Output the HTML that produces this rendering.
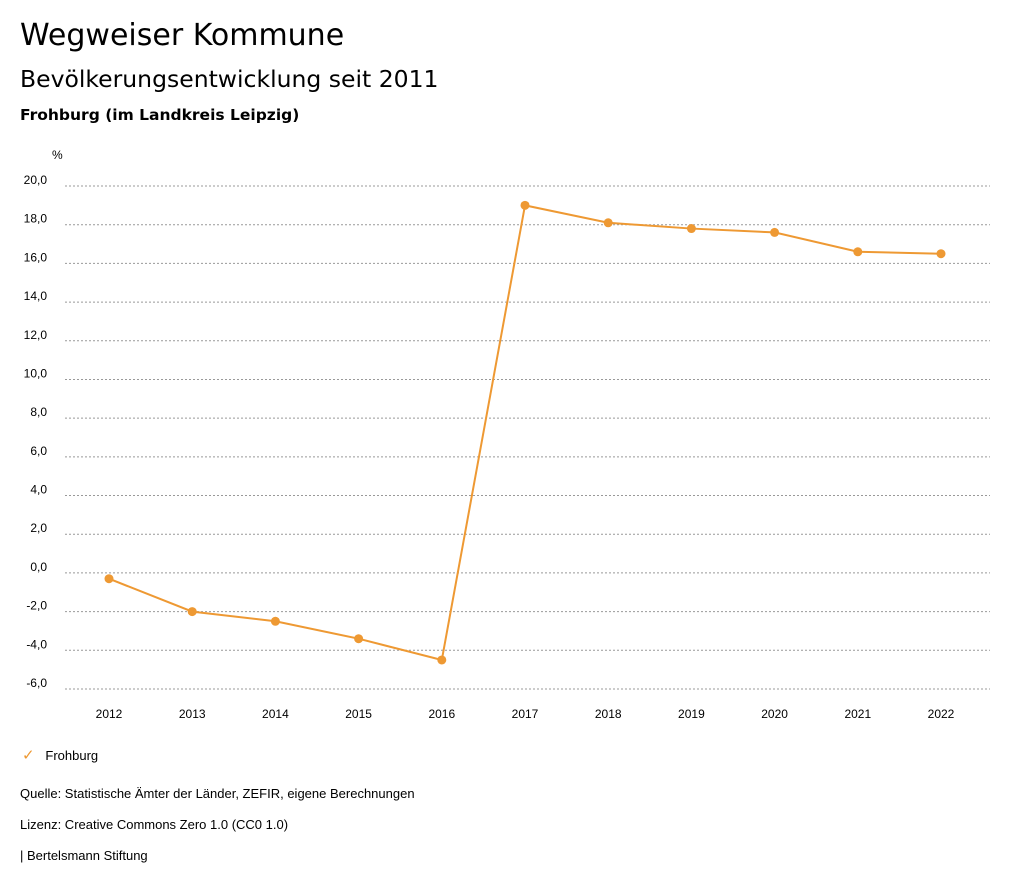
<!DOCTYPE html>
<html><head><meta charset="utf-8">
<style>
body{margin:0;background:#fff;font-family:"Liberation Sans",sans-serif;width:1024px;height:888px;overflow:hidden;position:relative}
.t{position:absolute;left:20px;color:#000;white-space:nowrap}
.h{font-family:"DejaVu Sans",sans-serif}
</style></head>
<body>
<div class="t h" style="top:18px;font-size:30px">Wegweiser Kommune</div>
<div class="t h" style="top:65px;font-size:23.5px">Bevölkerungsentwicklung seit 2011</div>
<div class="t h" style="top:106px;font-size:15.5px;font-weight:bold">Frohburg (im Landkreis Leipzig)</div>
<svg id="chart" width="1024" height="888" style="position:absolute;left:0;top:0" font-family="Liberation Sans, sans-serif"></svg>
<div class="t" style="top:746px;font-size:13px;left:22px"><span style="color:#ee9933;font-size:15px">✓</span>&nbsp;&nbsp;&nbsp;Frohburg</div>
<div class="t" style="top:786px;font-size:13px">Quelle: Statistische Ämter der Länder, ZEFIR, eigene Berechnungen</div>
<div class="t" style="top:817px;font-size:13px">Lizenz: Creative Commons Zero 1.0 (CC0 1.0)</div>
<div class="t" style="top:848px;font-size:13px">| Bertelsmann Stiftung</div>
<script>
const years=[2012,2013,2014,2015,2016,2017,2018,2019,2020,2021,2022];
const values=[-0.3,-2.0,-2.5,-3.4,-4.5,19.0,18.1,17.8,17.6,16.6,16.5];
const yTicks=[20,18,16,14,12,10,8,6,4,2,0,-2,-4,-6];
const NS="http://www.w3.org/2000/svg";
const svg=document.getElementById('chart');
const x=i=>109+i*83.2;
const y=v=>186+(20-v)*(689-186)/26;
function mk(t,a){const e=document.createElementNS(NS,t);for(const k in a)e.setAttribute(k,a[k]);svg.appendChild(e);return e;}
const u=mk('text',{x:52,y:159,'font-size':12,fill:'#000'});u.textContent='%';


yTicks.forEach(v=>{
 const l=mk('line',{x1:65,x2:990,y1:y(v),y2:y(v),stroke:'#999','stroke-dasharray':'2,2','stroke-width':1});
 
 
 const t=mk('text',{x:47,y:y(v)-2,'font-size':12,'text-anchor':'end',fill:'#000'});
 t.textContent=v.toFixed(1).replace('.',',');
 
 
});
years.forEach((yr,i)=>{
 const t=mk('text',{x:x(i),y:718,'font-size':12,'text-anchor':'middle',fill:'#000'});
 t.textContent=yr;
 
 
});
const p=mk('polyline',{points:values.map((v,i)=>x(i)+','+y(v)).join(' '),fill:'none',stroke:'#ee9933','stroke-width':2});


values.forEach((v,i)=>{
 const c=mk('circle',{cx:x(i),cy:y(v),r:4.5,fill:'#ee9933'});
 
 
});
</script>
</body></html>
